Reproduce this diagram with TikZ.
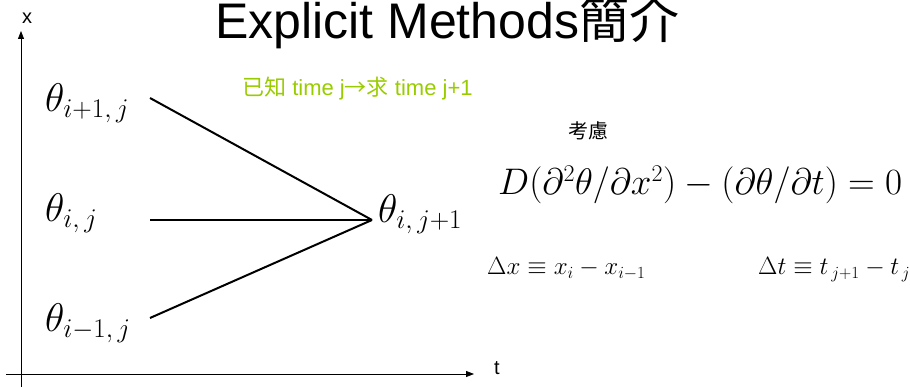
\RequirePackage{fix-cm}
\documentclass[tikz,border=0pt]{standalone}
\usepackage{fontspec}
\setmainfont{Liberation Sans}
\newfontfamily\cjk{Noto Sans CJK TC}
\usetikzlibrary{arrows.meta,positioning,calc}
\DeclareMathSizes{40}{40}{27}{20}
\DeclareMathSizes{37}{37}{24}{18}
\DeclareMathSizes{25}{25}{17}{12}
\definecolor{knowngreen}{RGB}{153,204,0}

\begin{document}
\begin{tikzpicture}[x=1pt,y=1pt,
  thlabel/.style={font=\fontsize{40}{44}\selectfont,inner sep=0pt,anchor=base west},
  eqlabel/.style={font=\fontsize{37}{41}\selectfont,inner sep=0pt,anchor=base west},
  deflabel/.style={font=\fontsize{25}{29}\selectfont,inner sep=0pt,anchor=base west},
  axis/.style={line width=0.8pt,-{Triangle[length=8pt,width=6pt]}},
  spoke/.style={line width=2pt}]
\useasboundingbox (0,0) rectangle (910,387);
% axes
\coordinate (o1) at (21,0);
\coordinate (o2) at (6,13);
\coordinate (xtip) at (21,356);
\coordinate (ttip) at (474,13);
\draw[axis] (o1) -- (xtip);
\draw[axis] (o2) -- (ttip);
\node[font=\fontsize{20}{24}\selectfont] (xlab) at (27,369) {x};
\node[font=\fontsize{20}{24}\selectfont] (tlab) at (497,19) {t};
% title and notes
\node[font=\fontsize{50}{54}\selectfont,inner sep=0pt,anchor=base west] (title) at (215,348) {Explicit Methods{\cjk 簡介}};
\node[font=\fontsize{22}{26}\selectfont,inner sep=0pt,anchor=base west,text=knowngreen] (known) at (242,291) {{\cjk 已知} time j{\cjk →求} time j+1};
\node[font=\fontsize{20}{24}\selectfont\cjk,inner sep=0pt,anchor=base west] (consider) at (568,248) {考慮};
% grid values
\node[thlabel] (up) at (45,275) {$\theta_{i+1,\,j}$};
\node[thlabel] (mid) at (45,165) {$\theta_{i,\,j}$};
\node[thlabel] (low) at (45,55) {$\theta_{i-1,\,j}$};
\coordinate (apex) at (372,167);
\node[thlabel] (next) at ($(apex)+(6,-3)$) {$\theta_{i,\,j+1}$};
\coordinate (sup) at (150,289);
\coordinate (smid) at (150,167);
\coordinate (slow) at (150,69);
\draw[spoke] (sup) -- (apex);
\draw[spoke] (smid) -- (apex);
\draw[spoke] (slow) -- (apex);
% equations
\node[eqlabel] (pde) at (498,192) {$D(\partial^2\theta/\partial x^2)-(\partial\theta/\partial t)=0$};
\node[deflabel] (dx) at (487,112) {$\Delta x\equiv x_i-x_{i-1}$};
\node[deflabel] (dt) at (758,112) {$\Delta t\equiv t_{\,j+1}-t_{\,j}$};
\end{tikzpicture}
\end{document}
